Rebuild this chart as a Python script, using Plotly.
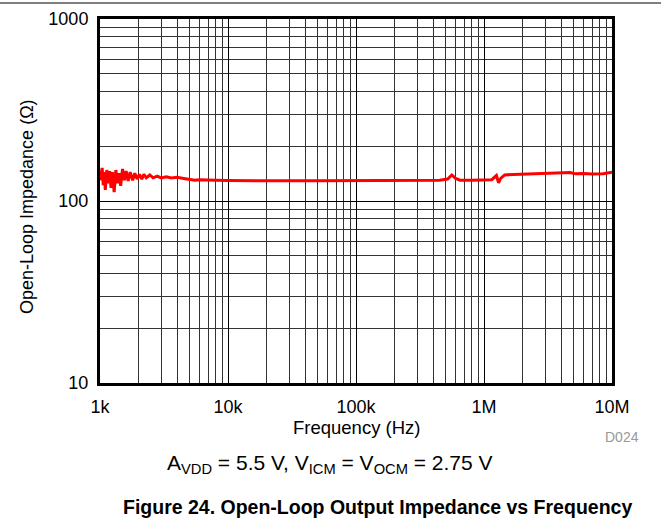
import plotly.graph_objects as go

freq_hz = [1000, 1020, 1040, 1060, 1080, 1100, 1130, 1160, 1190, 1220, 1250, 1290, 1330, 1370,
           1410, 1450, 1500, 1550, 1600, 1660, 1720, 1800, 1870, 1950, 2030, 2120, 2200, 2300,
           2450, 2600, 2800, 3000, 3300, 3600, 4000, 4500,
           5000, 5500, 6000, 7000, 8000, 10000, 15000, 20000, 30000, 50000, 100000, 200000,
           300000, 450000, 520000, 560000, 600000, 650000, 800000, 1000000, 1150000, 1250000,
           1300000, 1350000, 1450000, 1700000, 2200000, 3000000, 4000000, 4700000, 5200000,
           6000000, 7000000, 7800000, 8500000, 10000000]
impedance_ohm = [130, 139, 152, 122, 144, 115, 148, 125, 146, 118, 144, 112, 148, 125,
                 142, 121, 150, 130, 146, 129, 144, 130, 142, 132, 140, 132, 140, 134,
                 139, 134, 137, 134, 136, 134, 135, 133,
                 132, 130, 131, 130, 130, 129.5, 129, 129, 129, 129, 129, 129,
                 129, 130, 132, 139, 133, 130, 130, 130, 131, 138,
                 126, 133, 139, 140, 141, 142, 143, 143.5, 141,
                 141.5, 140.5, 141.5, 141, 144]

x_tickvals = [1e3, 1e4, 1e5, 1e6, 1e7]
x_ticktext = ["1k", "10k", "100k", "1M", "10M"]
y_tickvals = [10, 100, 1000]
y_ticktext = ["10", "100", "1000"]

x_minor = [m * 10 ** e for e in range(3, 7) for m in range(2, 10)]
y_minor = [m * 10 ** e for e in range(1, 3) for m in range(2, 10)]

FONT = "Liberation Sans, Arial, sans-serif"

fig = go.Figure()
fig.add_trace(go.Scatter(x=freq_hz, y=impedance_ohm, mode="lines",
                         line=dict(color="#ff0000", width=3), showlegend=False))

axis_common = dict(showline=True, linecolor="black", linewidth=3, mirror=True,
                   showgrid=True, gridcolor="black", gridwidth=1, ticks="",
                   tickfont=dict(family=FONT, size=18, color="black"), zeroline=False)

fig.update_xaxes(type="log", range=[3, 7], tickmode="array", tickvals=x_tickvals,
                 ticktext=x_ticktext, ticklabelstandoff=5,
                 minor=dict(tickmode="array", tickvals=x_minor, showgrid=True,
                            gridcolor="#333", gridwidth=1, ticks=""),
                 **axis_common)
fig.update_yaxes(type="log", range=[1, 3], tickmode="array", tickvals=y_tickvals,
                 ticktext=y_ticktext, ticklabelstandoff=5,
                 minor=dict(tickmode="array", tickvals=y_minor, showgrid=True,
                            gridcolor="#333", gridwidth=1, ticks=""),
                 **axis_common)

W, H = 661, 521
L, R, T, B = 100, 49, 19, 138
pw, ph = W - L - R, H - T - B

def px(x):
    return (x - L) / pw

def py(y):
    return 1 - (y - T) / ph

annotations = [
    dict(x=px(356), y=py(427), text="Frequency (Hz)", font=dict(family=FONT, size=18.5, color="black")),
    dict(x=px(27), y=py(207), text="Open-Loop Impedance (Ω)", textangle=-90,
         font=dict(family=FONT, size=18, color="black")),
    dict(x=px(622), y=py(437), text="D024", font=dict(family=FONT, size=14, color="#999999")),
    dict(x=px(330), y=py(464),
         text="A<sub>VDD</sub> = 5.5 V, V<sub>ICM</sub> = V<sub>OCM</sub> = 2.75 V",
         font=dict(family=FONT, size=21, color="black")),
    dict(x=px(377), y=py(507), text="<b>Figure 24. Open-Loop Output Impedance vs Frequency</b>",
         font=dict(family=FONT, size=19.5, color="black")),
]
for a in annotations:
    a.update(xref="paper", yref="paper", showarrow=False, xanchor="center", yanchor="middle")

fig.update_layout(
    width=W, height=H, margin=dict(l=L, r=R, t=T, b=B, autoexpand=False),
    paper_bgcolor="white", plot_bgcolor="white",
    annotations=annotations,
    shapes=[dict(type="line", xref="paper", yref="paper", x0=px(0), x1=px(661),
                 y0=py(3), y1=py(3), line=dict(color="black", width=1))],
)

fig.write_html("out.html")
